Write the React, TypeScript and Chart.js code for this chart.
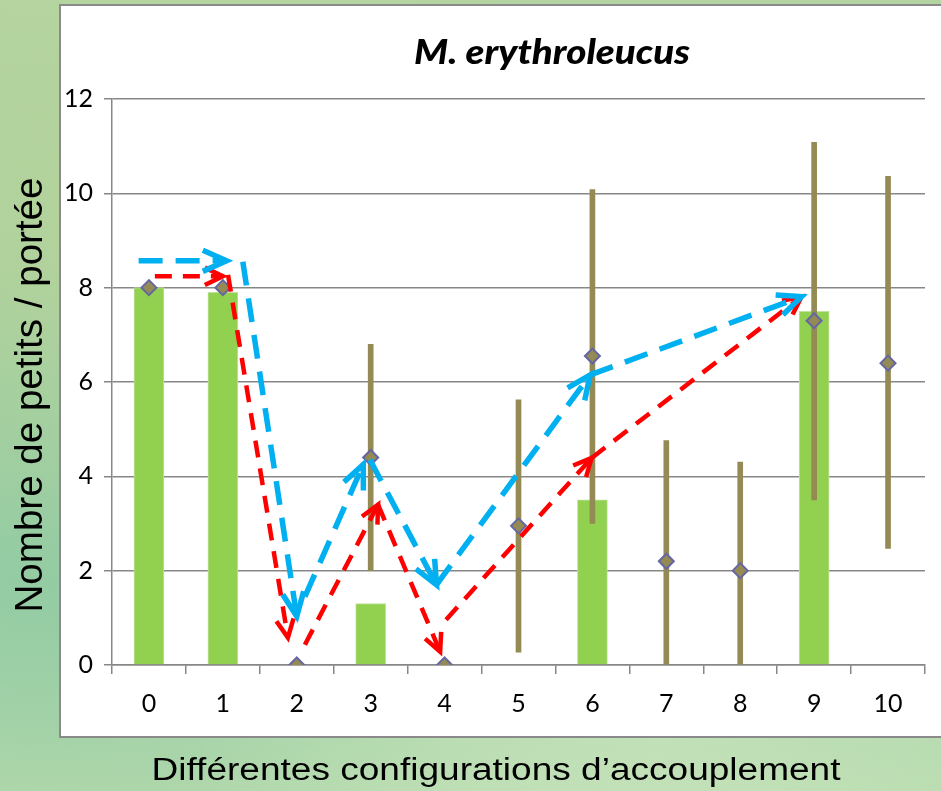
import React, { useEffect, useRef } from "react";
import { Chart, registerables } from "chart.js";

Chart.register(...registerables);

// ---------------- data ----------------
const categories = ["0", "1", "2", "3", "4", "5", "6", "7", "8", "9", "10"];
const barValues = [8, 7.9, null, 1.3, null, null, 3.5, null, null, 7.5, null];
const meanValues = [8, 8, 0, 4.4, 0, 2.95, 6.55, 2.2, 2.0, 7.3, 6.4];
const errorLow = [null, null, null, 2.0, null, 0.27, 3.0, 0, 0, 3.5, 2.47];
const errorHigh = [null, null, null, 6.8, null, 5.62, 10.08, 4.76, 4.3, 11.08, 10.36];
const yMin = 0;
const yMax = 12;
const yStep = 2;

// dashed arrows: [category position, value]
const blueArrowFrom = [[-0.14, 8.57], [1.27, 8.55], [2.11, 1.45], [2.99, 4.35], [3.89, 1.7], [5.97, 6.15]];
const blueArrowTo = [[1.05, 8.57], [2.0, 1.03], [2.9, 4.25], [3.89, 1.7], [5.97, 6.15], [8.83, 7.81]];
const redArrowFrom = [[0.08, 8.24], [1.07, 8.27], [2.11, 0.43], [3.1, 3.4], [4.02, 0.96], [5.99, 4.39]];
const redArrowTo = [[1.0, 8.24], [1.88, 0.58], [3.1, 3.4], [3.94, 0.28], [5.99, 4.39], [8.83, 7.81]];

const titleText = "M. erythroleucus";
const xTitleText = "Différentes configurations d\u2019accouplement";
const yTitleText = "Nombre de petits / portée";

// ---------------- helpers ----------------
function drawArrow(ctx: CanvasRenderingContext2D, x1: number, y1: number, x2: number, y2: number,
  color: string, width: number, dash: number[], headLen: number, headAngle: number) {
  ctx.save();
  ctx.strokeStyle = color;
  ctx.lineWidth = width;
  ctx.lineCap = "butt";
  ctx.lineJoin = "miter";
  ctx.setLineDash(dash);
  ctx.beginPath();
  ctx.moveTo(x1, y1);
  ctx.lineTo(x2, y2);
  ctx.stroke();
  const ang = Math.atan2(y2 - y1, x2 - x1);
  ctx.setLineDash([]);
  ctx.beginPath();
  ctx.moveTo(x2 - headLen * Math.cos(ang - headAngle), y2 - headLen * Math.sin(ang - headAngle));
  ctx.lineTo(x2, y2);
  ctx.lineTo(x2 - headLen * Math.cos(ang + headAngle), y2 - headLen * Math.sin(ang + headAngle));
  ctx.stroke();
  ctx.restore();
}

function fitText(ctx: CanvasRenderingContext2D, text: string, x: number, y: number, targetW: number, rotate = 0) {
  const w = ctx.measureText(text).width;
  const s = targetW / w;
  ctx.save();
  ctx.translate(x, y);
  if (rotate) ctx.rotate(rotate);
  ctx.scale(s, 1);
  ctx.fillText(text, 0, 0);
  ctx.restore();
}

const framePlugin = {
  id: "frame",
  beforeDraw(chart: any) {
    const ctx = chart.ctx as CanvasRenderingContext2D;
    ctx.save();
    ctx.fillStyle = "#ffffff";
    ctx.fillRect(60, 5, 900, 732);
    ctx.strokeStyle = "#8a8a8a";
    ctx.lineWidth = 2;
    ctx.strokeRect(60, 5, 900, 732);
    ctx.restore();
  },
  afterDraw(chart: any) {
    const ctx = chart.ctx as CanvasRenderingContext2D;
    ctx.save();
    ctx.fillStyle = "#000000";
    ctx.textAlign = "center";
    ctx.textBaseline = "alphabetic";
    ctx.font = "italic 900 35px Lato, 'Liberation Sans', sans-serif";
    fitText(ctx, titleText, 552, 64, 276);
    ctx.font = "31px 'Liberation Sans', Arial, sans-serif";
    fitText(ctx, xTitleText, 496, 780, 689);
    ctx.font = "39px 'Liberation Sans', Arial, sans-serif";
    fitText(ctx, yTitleText, 42, 395, 435, -Math.PI / 2);
    ctx.restore();
  },
};

const arrowPlugin = {
  id: "arrows",
  afterDatasetsDraw(chart: any) {
    const ctx = chart.ctx as CanvasRenderingContext2D;
    const xs = chart.scales.x;
    const ys = chart.scales.y;
    const px = (p: number[]) => [xs.getPixelForValue(p[0]), ys.getPixelForValue(p[1])];
    for (let i = 0; i < redArrowFrom.length; i++) {
      const a = px(redArrowFrom[i]);
      const b = px(redArrowTo[i]);
      drawArrow(ctx, a[0], a[1], b[0], b[1], "#FF0000", 4.5, [17, 11], 20, 0.45);
    }
    for (let i = 0; i < blueArrowFrom.length; i++) {
      const a = px(blueArrowFrom[i]);
      const b = px(blueArrowTo[i]);
      drawArrow(ctx, a[0], a[1], b[0], b[1], "#00B0F0", 5.5, [24, 13], 26, 0.42);
    }
  },
};

export default function App() {
  const ref = useRef<HTMLCanvasElement | null>(null);

  useEffect(() => {
    if (!ref.current) return;
    const errorData = errorLow.map((lo, i) => (lo === null || errorHigh[i] === null ? null : [lo, errorHigh[i]]));
    const chart = new Chart(ref.current, {
      type: "bar",
      data: {
        labels: categories,
        datasets: [
          {
            type: "line",
            label: "Moyenne",
            data: meanValues,
            showLine: false,
            pointStyle: "rectRot",
            pointRadius: 7.5,
            pointBackgroundColor: "#948A54",
            pointBorderColor: "#6666A3",
            pointBorderWidth: 2,
            order: 0,
          } as any,
          {
            type: "bar",
            label: "Écart-type",
            data: errorData as any,
            backgroundColor: "#948A54",
            barThickness: 5,
            grouped: false,
            order: 1,
          } as any,
          {
            type: "bar",
            label: "Nombre de petits",
            data: barValues as any,
            backgroundColor: "#92D050",
            borderColor: "#bfe39c",
            borderWidth: 1,
            barThickness: 30,
            grouped: false,
            order: 2,
          } as any,
        ],
      },
      options: {
        animation: false,
        responsive: false,
        maintainAspectRatio: false,
        devicePixelRatio: 1,
        layout: { padding: { top: 99, right: 16, bottom: 76, left: 0 } },
        plugins: {
          legend: { display: false },
          title: { display: false },
          tooltip: { enabled: false },
        },
        scales: {
          x: {
            type: "category",
            offset: true,
            grid: {
              offset: true,
              drawOnChartArea: false,
              drawTicks: true,
              tickLength: 9,
              color: "#878787",
              lineWidth: 1.5,
            },
            border: { display: true, color: "#878787", width: 1.5 },
            ticks: {
              color: "#000000",
              font: { family: "Lato, 'Liberation Sans', sans-serif", size: 25 },
              padding: 15,
              maxRotation: 0,
            },
            afterFit: (scale: any) => {
              scale.height = 50;
            },
          },
          y: {
            min: yMin,
            max: yMax,
            grid: { color: "#878787", lineWidth: 1.5, tickLength: 8 },
            border: { display: true, color: "#878787", width: 1.5 },
            ticks: {
              stepSize: yStep,
              color: "#000000",
              font: { family: "Lato, 'Liberation Sans', sans-serif", size: 25 },
              padding: 11,
            },
            afterFit: (scale: any) => {
              scale.width = 112;
            },
          },
        },
      } as any,
      plugins: [framePlugin, arrowPlugin],
    });
    return () => chart.destroy();
  }, []);

  return (
    <div
      style={{
        position: "fixed",
        left: 0,
        top: 0,
        width: 941,
        height: 791,
        overflow: "hidden",
        background:
          "radial-gradient(ellipse at 15% 30%, rgba(190,215,160,0.6), rgba(190,215,160,0) 45%)," +
          "radial-gradient(ellipse at 70% 95%, rgba(200,228,190,0.7), rgba(200,228,190,0) 50%)," +
          "radial-gradient(ellipse at 5% 75%, rgba(140,200,160,0.6), rgba(140,200,160,0) 40%)," +
          "linear-gradient(180deg, #b3d4a0 0%, #a5cd98 35%, #9dcfa6 70%, #b8dbae 100%)",
      }}
    >
      <canvas
        ref={ref}
        width={941}
        height={791}
        style={{ position: "absolute", left: 0, top: 0, width: 941, height: 791 }}
      />
    </div>
  );
}
